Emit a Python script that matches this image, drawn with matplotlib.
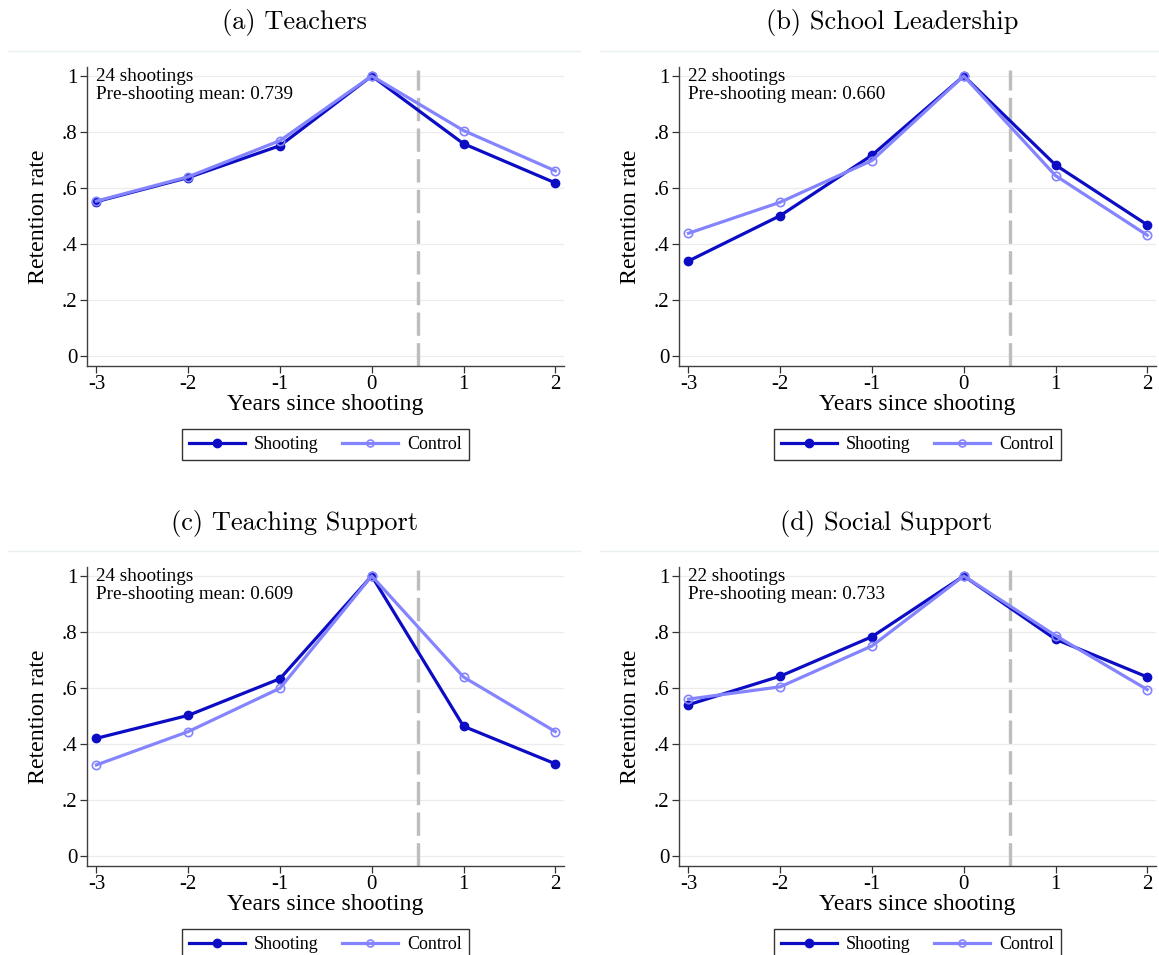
import matplotlib
matplotlib.use("Agg")
import matplotlib.pyplot as plt
from matplotlib.lines import Line2D

# event-time grid shared by all panels
years = [-3, -2, -1, 0, 1, 2]
xtick_labels = ["-3", "-2", "-1", "0", "1", "2"]
ytick_vals = [0, 0.2, 0.4, 0.6, 0.8, 1.0]
ytick_labels = ["0", ".2", ".4", ".6", ".8", "1"]

titles = ["(a) Teachers", "(b) School Leadership",
          "(c) Teaching Support", "(d) Social Support"]
n_shootings = [24, 22, 24, 22]
pre_means = ["0.739", "0.660", "0.609", "0.733"]

shooting_a = [0.551, 0.637, 0.751, 1.0, 0.758, 0.618]
control_a = [0.553, 0.640, 0.769, 1.0, 0.805, 0.661]
shooting_b = [0.339, 0.501, 0.717, 1.0, 0.682, 0.468]
control_b = [0.438, 0.549, 0.698, 1.0, 0.644, 0.431]
shooting_c = [0.420, 0.502, 0.633, 1.0, 0.463, 0.329]
control_c = [0.325, 0.444, 0.599, 1.0, 0.639, 0.444]
shooting_d = [0.540, 0.642, 0.783, 1.0, 0.774, 0.639]
control_d = [0.560, 0.604, 0.750, 1.0, 0.787, 0.594]

shooting = [shooting_a, shooting_b, shooting_c, shooting_d]
control = [control_a, control_b, control_c, control_d]

dark = "#0c0cc4"
light = "#8484ff"
serif = "Liberation Serif"

W, H = 1159, 955
fig = plt.figure(figsize=(W / 100, H / 100), dpi=100, facecolor="white")

# pixel layout of panel (a); others are shifted
ax_left, ax_right, ax_top, ax_bot = 87, 564, 67, 365.7
dx, dy = 592, 500
title_x = [294, 892, 295, 886]

for i in range(4):
    ox = dx * (i % 2)
    oy = dy * (i // 2)
    l = ax_left + ox
    b = ax_bot + oy
    ax = fig.add_axes([l / W, (H - b) / H, (ax_right - ax_left) / W, (ax_bot - ax_top) / H])

    ax.set_xlim(-3.103, 2.095)
    ax.set_ylim(-0.035, 1.032)
    for y in ytick_vals:
        ax.axhline(y, color="#ececec", lw=0.9, zorder=0)
    ax.axvline(0.5, color="#bdbdbd", lw=2.4, ls=(0, (7, 2.2)), ymax=(1.0 - (-0.035) + 0.02) / 1.067, zorder=1)

    ax.plot(years, shooting[i], color=dark, lw=2.3, marker="o", ms=6,
            mfc=dark, mec=dark, zorder=3, label="Shooting")
    ax.plot(years, control[i], color=light, lw=2.3, marker="o", ms=6,
            mfc="none", mec=light, mew=1.2, zorder=4, label="Control")

    ax.set_xticks(years)
    ax.set_xticklabels(xtick_labels)
    ax.set_yticks(ytick_vals)
    ax.set_yticklabels(ytick_labels)
    ax.tick_params(direction="out", length=5, width=0.9, color="#333333",
                   labelsize=15, pad=2)
    for lab in ax.get_xticklabels() + ax.get_yticklabels():
        lab.set_family(serif)
    ax.spines["top"].set_visible(False)
    ax.spines["right"].set_visible(False)
    for s in ["left", "bottom"]:
        ax.spines[s].set_color("#404040")
        ax.spines[s].set_linewidth(1.0)

    ax.set_xlabel("Years since shooting", family=serif, fontsize=17.2, labelpad=0)
    ax.set_ylabel("Retention rate", family=serif, fontsize=17.2, labelpad=9)

    ax.text(0.018, 0.998, f"{n_shootings[i]} shootings\nPre-shooting mean: {pre_means[i]}",
            transform=ax.transAxes, ha="left", va="top", family=serif,
            fontsize=13.8, linespacing=1.12)

    handles = [Line2D([], [], color=dark, lw=2.3, marker="o", ms=6, mfc=dark, mec=dark),
               Line2D([], [], color=light, lw=2.3, marker="o", ms=5, mfc="none", mec=light, mew=1.2)]
    leg = ax.legend(handles, ["Shooting", "Control"], loc="upper center",
                    bbox_to_anchor=(0.5, -0.212), borderaxespad=0, ncol=2, frameon=True,
                    fancybox=False, edgecolor="black", handlelength=3.1,
                    columnspacing=1.3, borderpad=0.4, handletextpad=0.5,
                    prop={"family": serif, "size": 13})
    leg.get_frame().set_linewidth(1.0)

    # panel title and faint rule
    fig.text(title_x[i] / W, 1 - (23 + oy) / H, titles[i], ha="center", va="center",
             family="cmr10", fontsize=19)
    fig.add_artist(Line2D([(8 + ox) / W, (580 + ox) / W],
                          [1 - (51 + oy) / H] * 2, color="#e8f0f0", lw=1))

fig.savefig("out.png", dpi=100, facecolor="white")
